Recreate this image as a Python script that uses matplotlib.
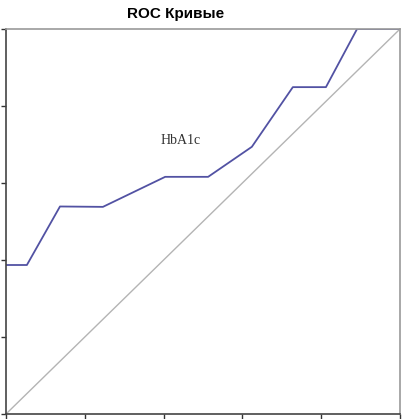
import matplotlib
matplotlib.use("Agg")
import matplotlib.pyplot as plt

# ROC curve points
fpr = [0.0, 0.053, 0.137, 0.246, 0.404, 0.513, 0.624, 0.728, 0.812, 0.891, 1.0]
tpr = [0.387, 0.387, 0.539, 0.538, 0.616, 0.616, 0.694, 0.849, 0.849, 1.0, 1.0]
ref_line = [0.0, 1.0]
ticks = [0.0, 0.2, 0.4, 0.6, 0.8, 1.0]

W, H = 409, 419
fig = plt.figure(figsize=(W / 100, H / 100), dpi=100)
ax = fig.add_axes([6 / W, 5 / H, 394 / W, 385 / H])

ax.plot(ref_line, ref_line, color="#b4b4b4", lw=1.0)
ax.plot(fpr, tpr, color="#5252a3", lw=1.3)

ax.set_xlim(0, 1)
ax.set_ylim(0, 1)
ax.set_xticks(ticks)
ax.set_yticks(ticks)
ax.set_xticklabels([])
ax.set_yticklabels([])
ax.tick_params(direction="out", length=3.5, width=1.0, color="#333333")

for side in ["left", "bottom"]:
    ax.spines[side].set_color("#444444")
    ax.spines[side].set_linewidth(1.2)
for side in ["top", "right"]:
    ax.spines[side].set_color("#9a9a9a")
    ax.spines[side].set_linewidth(1.2)

ax.text((181 - 6) / 394, (414 - 140) / 385, "HbA1c", family="Liberation Serif",
        fontsize=10, color="#333333", ha="center", va="center")

fig.text(176 / W, 1 - 14 / H, "ROC Кривые", family="Liberation Sans",
         fontsize=11, fontweight="bold", ha="center", va="center")

fig.savefig("out.png", dpi=100)
